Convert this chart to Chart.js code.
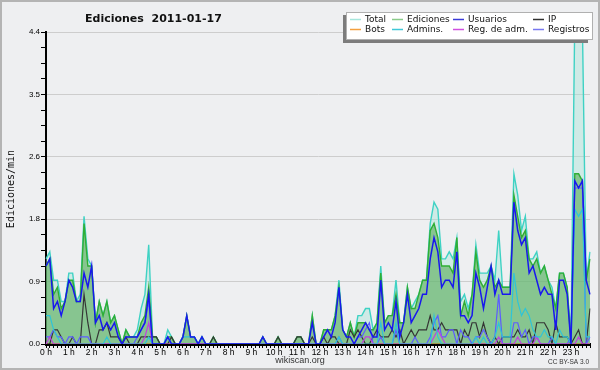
<!DOCTYPE html>
<html>
<head>
<meta charset="utf-8">
<script src="https://cdn.jsdelivr.net/npm/chart.js@4.4.0/dist/chart.umd.min.js"></script>
<style>
  html, body { margin: 0; padding: 0; background: #eeeff1; }
  canvas { display: block; }
</style>
</head>
<body>
<canvas id="grafico" width="600" height="370"></canvas>
<script>
// === Ediciones 2011-01-17 (valores por 10 minutos, en ediciones/min) ===

const horas = ['0 h', '1 h', '2 h', '3 h', '4 h', '5 h', '6 h', '7 h', '8 h', '9 h', '10 h', '11 h',
               '12 h', '13 h', '14 h', '15 h', '16 h', '17 h', '18 h', '19 h', '20 h', '21 h', '22 h', '23 h'];
const yMax = 4.4;
const yTickLabels = ['0.0', '0.9', '1.8', '2.6', '3.5', '4.4'];

// una fila por hora, 6 tramos de 10 min
const total = [
  1.2, 1.3, 0.9, 0.9, 0.6, 0.6,   1.0, 1.0, 0.6, 0.7, 1.8, 1.2,   1.1, 0.3, 0.6, 0.4, 0.6, 0.3,
  0.4, 0.2, 0.0, 0.2, 0.1, 0.1,   0.2, 0.5, 0.7, 1.4, 0.1, 0.1,   0.0, 0.0, 0.2, 0.1, 0.0, 0.0,
  0.1, 0.4, 0.1, 0.1, 0.0, 0.1,   0.0, 0.0, 0.1, 0.0, 0.0, 0.0,   0.0, 0.0, 0.0, 0.0, 0.0, 0.0,
  0.0, 0.0, 0.0, 0.1, 0.0, 0.0,   0.0, 0.1, 0.0, 0.0, 0.0, 0.0,   0.1, 0.1, 0.0, 0.0, 0.4, 0.0,
  0.0, 0.2, 0.2, 0.2, 0.4, 0.9,   0.2, 0.1, 0.3, 0.1, 0.4, 0.4,   0.5, 0.5, 0.2, 0.3, 1.1, 0.3,
  0.4, 0.4, 0.9, 0.3, 0.3, 0.8,   0.5, 0.6, 0.7, 0.9, 0.9, 1.7,   2.0, 1.9, 1.2, 1.2, 1.3, 1.2,
  1.5, 0.6, 0.7, 0.5, 0.7, 1.4,   1.0, 1.0, 1.0, 1.1, 0.9, 1.6,   0.8, 0.8, 0.8, 2.4, 2.1, 1.6,
  1.8, 1.2, 1.2, 1.3, 1.0, 1.1,   0.9, 0.8, 0.5, 1.0, 1.0, 0.8,   0.1, 4.6, 4.6, 4.5, 0.9, 1.3
];
const ediciones = [
  1.1, 1.2, 0.7, 0.8, 0.5, 0.6,   0.9, 0.9, 0.6, 0.6, 1.7, 1.1,   1.1, 0.3, 0.6, 0.4, 0.6, 0.3,
  0.4, 0.2, 0.0, 0.2, 0.1, 0.1,   0.1, 0.3, 0.4, 0.8, 0.1, 0.1,   0.0, 0.0, 0.1, 0.1, 0.0, 0.0,
  0.1, 0.4, 0.1, 0.1, 0.0, 0.1,   0.0, 0.0, 0.1, 0.0, 0.0, 0.0,   0.0, 0.0, 0.0, 0.0, 0.0, 0.0,
  0.0, 0.0, 0.0, 0.1, 0.0, 0.0,   0.0, 0.1, 0.0, 0.0, 0.0, 0.0,   0.1, 0.1, 0.0, 0.0, 0.4, 0.0,
  0.0, 0.2, 0.2, 0.2, 0.4, 0.8,   0.2, 0.1, 0.3, 0.1, 0.3, 0.3,   0.3, 0.2, 0.2, 0.3, 1.0, 0.3,
  0.4, 0.4, 0.7, 0.3, 0.3, 0.8,   0.5, 0.5, 0.7, 0.9, 0.9, 1.6,   1.7, 1.5, 1.1, 1.1, 1.1, 1.0,
  1.5, 0.4, 0.6, 0.4, 0.7, 1.3,   0.9, 0.8, 0.9, 1.1, 0.8, 0.9,   0.8, 0.8, 0.8, 2.1, 1.8, 1.5,
  1.6, 1.2, 1.1, 1.2, 1.0, 1.1,   0.9, 0.7, 0.5, 1.0, 1.0, 0.8,   0.0, 2.4, 2.4, 2.3, 0.9, 1.2
];
const usuarios = [
  1.1, 1.2, 0.5, 0.6, 0.4, 0.6,   0.9, 0.8, 0.6, 0.6, 1.0, 0.8,   1.1, 0.3, 0.4, 0.2, 0.3, 0.2,
  0.3, 0.1, 0.0, 0.1, 0.1, 0.1,   0.1, 0.2, 0.3, 0.7, 0.0, 0.0,   0.0, 0.0, 0.1, 0.0, 0.0, 0.0,
  0.1, 0.4, 0.1, 0.1, 0.0, 0.1,   0.0, 0.0, 0.0, 0.0, 0.0, 0.0,   0.0, 0.0, 0.0, 0.0, 0.0, 0.0,
  0.0, 0.0, 0.0, 0.1, 0.0, 0.0,   0.0, 0.0, 0.0, 0.0, 0.0, 0.0,   0.0, 0.0, 0.0, 0.0, 0.3, 0.0,
  0.0, 0.1, 0.2, 0.1, 0.3, 0.8,   0.2, 0.1, 0.1, 0.0, 0.1, 0.2,   0.3, 0.2, 0.1, 0.1, 0.9, 0.2,
  0.3, 0.2, 0.6, 0.1, 0.3, 0.7,   0.3, 0.4, 0.5, 0.7, 0.7, 1.2,   1.5, 1.3, 0.8, 0.9, 0.9, 0.8,
  1.3, 0.4, 0.4, 0.3, 0.4, 1.0,   0.8, 0.5, 0.8, 1.1, 0.7, 0.9,   0.7, 0.7, 0.7, 2.0, 1.6, 1.4,
  1.5, 1.0, 1.1, 0.9, 0.7, 0.8,   0.7, 0.7, 0.2, 0.9, 0.9, 0.7,   0.0, 2.3, 2.2, 2.3, 0.9, 0.7
];
const ip = [
  0.0, 0.0, 0.2, 0.2, 0.1, 0.0,   0.0, 0.1, 0.0, 0.0, 0.7, 0.3,   0.0, 0.0, 0.2, 0.2, 0.3, 0.1,
  0.1, 0.1, 0.0, 0.1, 0.0, 0.0,   0.0, 0.1, 0.1, 0.1, 0.1, 0.1,   0.0, 0.0, 0.0, 0.1, 0.0, 0.0,
  0.0, 0.0, 0.0, 0.0, 0.0, 0.0,   0.0, 0.0, 0.1, 0.0, 0.0, 0.0,   0.0, 0.0, 0.0, 0.0, 0.0, 0.0,
  0.0, 0.0, 0.0, 0.0, 0.0, 0.0,   0.0, 0.1, 0.0, 0.0, 0.0, 0.0,   0.1, 0.1, 0.0, 0.0, 0.1, 0.0,
  0.0, 0.1, 0.0, 0.1, 0.1, 0.0,   0.0, 0.0, 0.2, 0.1, 0.2, 0.1,   0.0, 0.0, 0.1, 0.2, 0.1, 0.1,
  0.1, 0.2, 0.1, 0.2, 0.0, 0.1,   0.2, 0.1, 0.2, 0.2, 0.2, 0.4,   0.2, 0.2, 0.3, 0.2, 0.2, 0.2,
  0.2, 0.0, 0.2, 0.1, 0.3, 0.3,   0.1, 0.3, 0.1, 0.0, 0.1, 0.0,   0.1, 0.1, 0.1, 0.1, 0.2, 0.1,
  0.1, 0.2, 0.0, 0.3, 0.3, 0.3,   0.2, 0.0, 0.3, 0.1, 0.1, 0.1,   0.0, 0.1, 0.2, 0.0, 0.0, 0.5
];
const bots = [
  0, 0, 0, 0, 0, 0,   0, 0, 0, 0, 0, 0,   0, 0, 0, 0, 0, 0,   0, 0, 0, 0, 0, 0,
  0, 0, 0, 0, 0, 0,   0, 0, 0, 0, 0, 0,   0, 0, 0, 0, 0, 0,   0, 0, 0, 0, 0, 0,
  0, 0, 0, 0, 0, 0,   0, 0, 0, 0, 0, 0,   0, 0, 0, 0, 0, 0,   0, 0, 0, 0, 0, 0,
  0, 0, 0, 0, 0, 0,   0, 0, 0, 0, 0, 0,   0, 0, 0, 0, 0, 0,   0, 0, 0, 0, 0, 0,
  0, 0, 0, 0, 0, 0,   0, 0, 0, 0, 0, 0,   0, 0, 0, 0, 0, 0,   0, 0, 0, 0, 0, 0,
  0, 0, 0, 0, 0, 0,   0, 0, 0, 0, 0, 0,   0, 0, 0, 0, 0, 0,   0, 0, 0, 0, 0, 0
];
const admins = [
  0.4, 0.4, 0.2, 0.1, 0.0, 0.0,   0.0, 0.0, 0.0, 0.0, 0.0, 0.0,   0.0, 0.0, 0.0, 0.0, 0.1, 0.0,
  0.0, 0.0, 0.0, 0.0, 0.0, 0.0,   0.0, 0.0, 0.0, 0.1, 0.0, 0.0,   0.0, 0.0, 0.1, 0.0, 0.0, 0.0,
  0.1, 0.1, 0.1, 0.1, 0.0, 0.1,   0.0, 0.0, 0.0, 0.0, 0.0, 0.0,   0.0, 0.0, 0.0, 0.0, 0.0, 0.0,
  0.0, 0.0, 0.0, 0.0, 0.0, 0.0,   0.0, 0.0, 0.0, 0.0, 0.0, 0.0,   0.0, 0.0, 0.0, 0.0, 0.0, 0.0,
  0.0, 0.0, 0.0, 0.0, 0.0, 0.1,   0.0, 0.0, 0.0, 0.0, 0.0, 0.0,   0.0, 0.0, 0.0, 0.0, 0.3, 0.0,
  0.0, 0.0, 0.3, 0.0, 0.0, 0.0,   0.0, 0.0, 0.0, 0.0, 0.0, 0.0,   0.4, 0.1, 0.0, 0.0, 0.0, 0.0,
  0.0, 0.0, 0.0, 0.0, 0.0, 0.1,   0.0, 0.1, 0.0, 0.0, 0.1, 0.3,   0.1, 0.1, 0.1, 1.0, 0.6, 0.4,
  0.5, 0.4, 0.2, 0.1, 0.1, 0.2,   0.1, 0.1, 0.0, 0.2, 0.1, 0.1,   0.0, 1.9, 1.8, 1.9, 0.1, 0.1
];
const regAdm = [
  0.0, 0.1, 0.0, 0.0, 0.0, 0.0,   0.0, 0.0, 0.0, 0.0, 0.0, 0.0,   0.0, 0.0, 0.0, 0.0, 0.0, 0.0,
  0.0, 0.0, 0.0, 0.0, 0.0, 0.0,   0.0, 0.0, 0.1, 0.3, 0.0, 0.0,   0.0, 0.0, 0.0, 0.0, 0.0, 0.0,
  0.0, 0.0, 0.0, 0.0, 0.0, 0.0,   0.0, 0.0, 0.0, 0.0, 0.0, 0.0,   0.0, 0.0, 0.0, 0.0, 0.0, 0.0,
  0.0, 0.0, 0.0, 0.0, 0.0, 0.0,   0.0, 0.0, 0.0, 0.0, 0.0, 0.0,   0.0, 0.0, 0.0, 0.0, 0.0, 0.0,
  0.0, 0.0, 0.0, 0.0, 0.0, 0.0,   0.0, 0.0, 0.0, 0.0, 0.0, 0.0,   0.1, 0.1, 0.0, 0.0, 0.0, 0.0,
  0.0, 0.0, 0.0, 0.0, 0.0, 0.0,   0.0, 0.0, 0.0, 0.0, 0.0, 0.0,   0.1, 0.2, 0.1, 0.0, 0.0, 0.0,
  0.0, 0.0, 0.0, 0.0, 0.0, 0.0,   0.0, 0.0, 0.0, 0.0, 0.0, 0.1,   0.0, 0.0, 0.0, 0.0, 0.1, 0.0,
  0.0, 0.0, 0.0, 0.1, 0.0, 0.0,   0.0, 0.0, 0.0, 0.0, 0.0, 0.0,   0.0, 0.0, 0.1, 0.0, 0.0, 0.0
];
const registros = [
  0.1, 0.1, 0.2, 0.1, 0.1, 0.0,   0.1, 0.1, 0.0, 0.1, 0.1, 0.1,   0.0, 0.0, 0.0, 0.0, 0.0, 0.0,
  0.0, 0.0, 0.0, 0.0, 0.0, 0.0,   0.1, 0.2, 0.3, 0.6, 0.0, 0.0,   0.0, 0.0, 0.1, 0.0, 0.0, 0.0,
  0.0, 0.0, 0.0, 0.0, 0.0, 0.0,   0.0, 0.0, 0.0, 0.0, 0.0, 0.0,   0.0, 0.0, 0.0, 0.0, 0.0, 0.0,
  0.0, 0.0, 0.0, 0.0, 0.0, 0.0,   0.0, 0.0, 0.0, 0.0, 0.0, 0.0,   0.0, 0.0, 0.0, 0.0, 0.0, 0.0,
  0.0, 0.0, 0.0, 0.0, 0.0, 0.1,   0.0, 0.0, 0.0, 0.0, 0.1, 0.1,   0.2, 0.3, 0.0, 0.0, 0.1, 0.0,
  0.0, 0.0, 0.2, 0.0, 0.0, 0.0,   0.0, 0.1, 0.0, 0.0, 0.0, 0.1,   0.3, 0.4, 0.1, 0.1, 0.2, 0.2,
  0.0, 0.2, 0.1, 0.1, 0.0, 0.1,   0.1, 0.2, 0.1, 0.0, 0.1, 0.7,   0.0, 0.0, 0.0, 0.3, 0.3, 0.1,
  0.2, 0.0, 0.1, 0.1, 0.0, 0.0,   0.0, 0.1, 0.0, 0.0, 0.0, 0.0,   0.1, 2.2, 2.2, 2.2, 0.0, 0.1
];

// Leyenda: 2 filas x 4 columnas
const leyenda = [
  { texto: 'Total', color: '#a6e6dc', x: 350, y: 19.5 },
  { texto: 'Ediciones', color: '#8acb8a', x: 392, y: 19.5 },
  { texto: 'Usuarios', color: '#3a3ad8', x: 453, y: 19.5 },
  { texto: 'IP', color: '#303030', x: 533, y: 19.5 },
  { texto: 'Bots', color: '#f4a040', x: 350, y: 29.5 },
  { texto: 'Admins.', color: '#40c8d8', x: 392, y: 29.5 },
  { texto: 'Reg. de adm.', color: '#d050e0', x: 453, y: 29.5 },
  { texto: 'Registros', color: '#7878f0', x: 533, y: 29.5 }
];

// Etiquetas del eje X: una por tramo de 10 minutos
const tramos = [];
horas.forEach(h => { for (let k = 0; k < 6; k++) tramos.push(h); });

// Marcas del eje Y cada 0.22 (etiqueta cada 4)
const yTickVals = [];
for (let k = 0; k <= 20; k++) yTickVals.push(yMax * k / 20);

function linea(label, data, color, orden, extra) {
  return Object.assign({
    label: label,
    data: data,
    borderColor: color,
    borderWidth: 1.2,
    pointRadius: 0,
    tension: 0,
    fill: false,
    order: orden
  }, extra || {});
}

// Fondo, textos, leyenda y marco
const decorado = {
  id: 'decorado',
  beforeDraw(chart) {
    const c = chart.ctx;
    c.save();
    c.fillStyle = '#eeeff1';
    c.fillRect(0, 0, chart.width, chart.height);
    c.restore();
  },
  afterDatasetsDraw(chart) {
    // el eje X tapa las líneas en cero
    const c = chart.ctx, a = chart.chartArea;
    c.save();
    c.strokeStyle = '#000';
    c.lineWidth = 2;
    c.beginPath();
    c.moveTo(a.left - 1, a.bottom + 1);
    c.lineTo(a.right + 1, a.bottom + 1);
    c.stroke();
    c.restore();
  },
  afterDraw(chart) {
    const c = chart.ctx;
    c.save();

    // título
    c.fillStyle = '#111';
    c.font = 'bold 11px "DejaVu Sans"';
    c.textAlign = 'left';
    c.textBaseline = 'alphabetic';
    c.fillText('Ediciones  2011-01-17', 85, 22);

    // título del eje Y
    c.save();
    c.translate(11, 189);
    c.rotate(-Math.PI / 2);
    c.font = '10px "DejaVu Sans Mono"';
    c.textAlign = 'center';
    c.textBaseline = 'middle';
    c.fillText('Ediciones/min', 0, 0);
    c.restore();

    // pie
    c.fillStyle = '#333';
    c.font = '9px "Liberation Sans"';
    c.textAlign = 'center';
    c.textBaseline = 'middle';
    c.fillText('wikiscan.org', 300, 361);
    c.font = '6.5px "Liberation Sans"';
    c.textAlign = 'right';
    c.fillText('CC BY-SA 3.0', 589, 362);

    // leyenda con sombra
    c.fillStyle = '#7c7c7c';
    c.fillRect(343, 15, 245, 28);
    c.fillStyle = '#ffffff';
    c.fillRect(346.5, 12.5, 246, 27);
    c.strokeStyle = '#b0b0b0';
    c.lineWidth = 1;
    c.strokeRect(346.5, 12.5, 246, 27);
    c.font = '9px "DejaVu Sans"';
    c.textAlign = 'left';
    c.textBaseline = 'middle';
    leyenda.forEach(item => {
      c.strokeStyle = item.color;
      c.lineWidth = 1.5;
      c.beginPath();
      c.moveTo(item.x, item.y);
      c.lineTo(item.x + 11, item.y);
      c.stroke();
      c.fillStyle = '#111';
      c.fillText(item.texto, item.x + 15, item.y);
    });

    // marco
    c.strokeStyle = '#b4b4b4';
    c.lineWidth = 2;
    c.strokeRect(1, 1, chart.width - 2, chart.height - 2);
    c.restore();
  }
};

const ctx = document.getElementById('grafico');
window.edicionesChart = new Chart(ctx, {
  type: 'line',
  data: {
    labels: tramos,
    datasets: [
      linea('Total', total, '#3fd2c4', 10, { fill: 'origin', backgroundColor: 'rgba(160, 228, 214, 0.4)', borderWidth: 1.4 }),
      linea('Ediciones', ediciones, '#2fae35', 9, { fill: 'origin', backgroundColor: 'rgba(90, 175, 90, 0.62)', borderWidth: 1.4 }),
      linea('Bots', bots, '#f4a040', 8),
      linea('IP', ip, '#353535', 7),
      linea('Registros', registros, '#5c5cff', 6),
      linea('Reg. de adm.', regAdm, '#c040e0', 5),
      linea('Admins.', admins, '#2ec4d8', 4),
      linea('Usuarios', usuarios, '#1818ee', 3, { borderWidth: 1.5 })
    ]
  },
  options: {
    responsive: false,
    animation: false,
    devicePixelRatio: 1,
    layout: { padding: { top: 32, right: 10, left: 0, bottom: 0 } },
    plugins: {
      legend: { display: false },
      tooltip: { enabled: false },
      title: { display: false }
    },
    scales: {
      x: {
        type: 'category',
        offset: false,
        grid: { display: true, drawOnChartArea: false, tickLength: 4, tickColor: '#000', color: '#000' },
        border: { display: true, color: '#000', width: 2 },
        ticks: {
          autoSkip: false,
          maxRotation: 0,
          minRotation: 0,
          padding: 0,
          color: '#000',
          font: { family: 'Liberation Sans', size: 8.5 },
          callback: (v, i) => (i % 6 === 0 ? horas[i / 6] : '')
        },
        afterFit: s => { s.height = 26; }
      },
      y: {
        min: 0,
        max: yMax,
        afterBuildTicks: s => { s.ticks = yTickVals.map(v => ({ value: v })); },
        grid: {
          color: c => (c.index % 4 === 0 ? '#cdcdcd' : 'rgba(0,0,0,0)'),
          tickColor: '#000',
          tickLength: 5
        },
        border: { display: true, color: '#000', width: 2 },
        ticks: {
          padding: 1,
          color: '#000',
          font: { family: 'Liberation Sans', size: 8 },
          callback: (v, i) => (i % 4 === 0 ? yTickLabels[i / 4] : '')
        },
        afterFit: s => { s.width = 46; }
      }
    }
  },
  plugins: [decorado]
});
</script>
</body>
</html>
